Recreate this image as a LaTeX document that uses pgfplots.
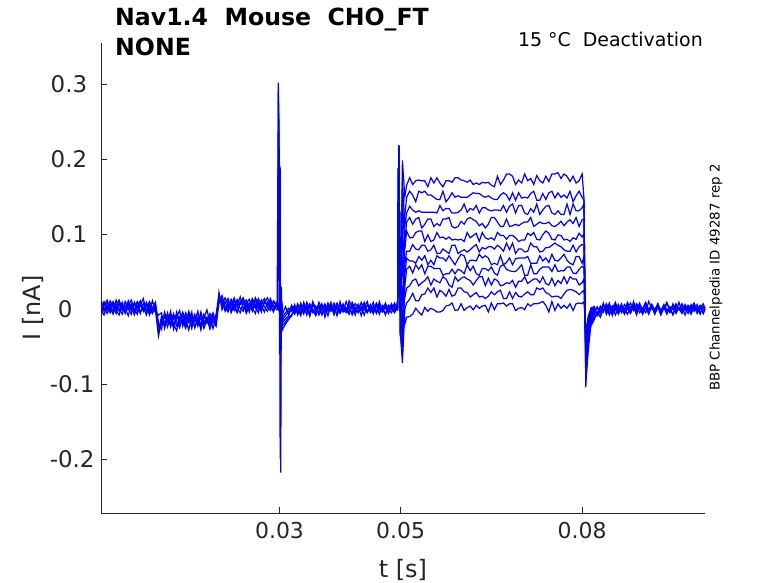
\documentclass[border=0pt]{standalone}
\usepackage{fontspec}
\setmainfont{DejaVu Sans}
\usepackage{pgfplots}
\usepackage{pgfplotstable}
\pgfplotsset{compat=1.18}
\definecolor{mblue}{RGB}{0,0,255}
\definecolor{mgray}{RGB}{38,38,38}

% baseline part of the sweeps, 0 - 0.05 s (nA)
\pgfplotstableread{
t b1 b2 b3 b4 b5 b6
0.0005 0.006 -0.004 0.011 -0.001 0.003 -0.009
0.0010 -0.003 0.008 0.002 -0.008 0.010 0.004
0.0015 0.009 0.001 -0.006 0.005 -0.002 0.012
0.0020 0.002 0.011 0.004 -0.005 0.007 -0.003
0.0025 -0.007 0.003 0.009 0.010 -0.004 0.006
0.0030 0.005 -0.006 -0.002 0.003 0.012 -0.001
0.0035 0.012 0.007 -0.008 -0.003 0.001 0.008
0.0040 0.000 -0.002 0.006 0.009 -0.007 0.003
0.0045 -0.004 0.010 0.001 -0.006 0.005 -0.005
0.0050 0.008 0.002 -0.009 0.004 -0.001 0.011
0.0055 0.003 -0.007 0.007 0.012 0.006 -0.002
0.0060 -0.005 0.009 -0.001 0.000 -0.008 0.005
0.0065 0.010 -0.003 0.004 -0.007 0.003 0.009
0.0070 0.004 0.006 -0.006 0.007 0.011 -0.004
0.0075 -0.002 0.014 0.008 -0.001 -0.003 0.002
0.0080 0.007 -0.004 -0.003 0.005 0.009 -0.008
0.0085 -0.008 0.004 0.010 -0.004 0.000 0.006
0.0090 0.001 -0.005 0.002 0.011 -0.006 -0.001
0.0095 0.009 0.000 -0.004 -0.002 0.007 0.003
0.0100 -0.033 -0.024 -0.008 -0.036 -0.018 -0.028
0.0105 -0.010 -0.021 -0.005 -0.016 -0.027 -0.012
0.0110 -0.019 -0.007 -0.026 -0.010 -0.004 -0.022
0.0115 -0.005 -0.017 -0.012 -0.024 -0.015 -0.008
0.0120 -0.024 -0.003 -0.018 -0.009 -0.021 -0.013
0.0125 -0.012 -0.027 -0.006 -0.020 -0.010 -0.025
0.0130 -0.007 -0.011 -0.022 -0.029 -0.016 -0.004
0.0135 -0.021 -0.002 -0.015 -0.011 -0.025 -0.017
0.0140 -0.016 -0.023 -0.004 -0.019 -0.008 -0.014
0.0145 -0.026 -0.009 -0.014 -0.005 -0.020 -0.023
0.0150 -0.006 -0.018 -0.028 -0.013 -0.003 -0.011
0.0155 -0.017 -0.004 -0.010 -0.022 -0.014 -0.026
0.0160 -0.010 -0.025 -0.017 -0.007 -0.024 -0.009
0.0165 -0.023 -0.014 -0.003 -0.018 -0.011 -0.019
0.0170 -0.004 -0.020 -0.024 -0.012 -0.028 -0.006
0.0175 -0.018 -0.007 -0.012 -0.026 -0.009 -0.021
0.0180 -0.011 -0.016 -0.001 -0.015 -0.019 -0.012
0.0185 -0.022 -0.010 -0.019 -0.006 -0.013 -0.027
0.0190 -0.014 -0.026 -0.008 -0.016 -0.005 -0.015
0.0195 -0.008 -0.012 -0.021 -0.023 -0.017 -0.010
0.0200 0.020 0.013 0.022 0.008 0.016 0.011
0.0205 0.003 0.011 -0.001 0.014 0.006 0.018
0.0210 0.010 -0.003 0.008 0.002 0.015 0.004
0.0215 0.001 0.009 0.014 -0.004 0.007 -0.002
0.0220 0.013 0.004 -0.005 0.008 -0.001 0.012
0.0225 0.006 0.015 0.005 -0.002 0.011 0.003
0.0230 -0.004 0.002 0.010 0.013 0.004 -0.005
0.0235 0.009 -0.005 0.001 0.006 0.016 0.008
0.0240 0.015 0.008 -0.003 0.010 0.000 0.013
0.0245 0.002 0.012 0.007 -0.006 0.009 -0.003
0.0250 0.008 -0.001 0.013 0.004 -0.004 0.007
0.0255 -0.003 0.007 0.002 0.014 0.012 0.001
0.0260 0.011 0.001 -0.006 0.006 0.003 0.015
0.0265 0.005 0.014 0.009 0.000 -0.005 0.006
0.0270 -0.001 0.005 0.001 0.012 0.008 -0.004
0.0275 0.010 -0.004 0.008 0.003 0.014 0.010
0.0280 0.004 0.009 0.015 -0.003 0.002 0.005
0.0285 0.014 0.000 0.004 0.008 -0.002 0.012
0.0290 0.001 0.010 -0.004 0.005 0.011 0.000
0.0295 0.007 0.003 0.009 -0.001 0.006 0.004
0.0300 0.003 -0.002 0.005 0.000 -0.004 0.002
0.0305 -0.014 -0.022 -0.006 -0.027 -0.010 -0.018
0.0310 -0.009 -0.017 0.003 -0.020 -0.005 -0.013
0.0315 -0.003 -0.011 -0.008 -0.014 0.001 -0.009
0.0320 0.004 -0.008 0.002 -0.009 -0.003 0.005
0.0325 -0.005 0.002 -0.007 -0.001 0.006 -0.004
0.0330 0.007 -0.005 0.001 0.005 -0.008 0.002
0.0335 -0.001 0.008 -0.009 0.002 0.004 -0.006
0.0340 0.004 -0.003 0.006 -0.007 -0.002 0.009
0.0345 -0.008 0.003 0.000 0.009 0.005 -0.003
0.0350 0.005 -0.010 -0.004 0.001 -0.006 0.007
0.0355 -0.001 0.006 0.008 -0.005 0.010 -0.002
0.0360 -0.006 -0.002 0.002 0.004 -0.003 -0.009
0.0365 0.009 0.004 -0.005 -0.008 0.002 0.005
0.0370 0.002 -0.008 0.007 0.000 -0.007 0.001
0.0375 -0.004 0.005 -0.011 0.007 0.003 -0.005
0.0380 0.007 -0.001 0.004 -0.003 -0.009 0.008
0.0385 -0.003 0.009 -0.002 0.005 0.006 -0.001
0.0390 0.004 -0.006 0.008 -0.008 -0.002 0.003
0.0395 -0.009 0.002 -0.001 0.006 0.008 -0.007
0.0400 0.005 -0.004 -0.006 0.001 -0.004 0.010
0.0405 -0.001 0.007 0.003 -0.004 0.005 -0.003
0.0410 -0.005 0.000 -0.003 0.010 -0.001 0.002
0.0415 0.011 -0.003 0.005 -0.001 -0.007 -0.006
0.0420 0.002 0.006 -0.008 -0.005 0.009 0.004
0.0425 -0.004 -0.002 0.002 0.007 0.001 -0.008
0.0430 0.006 0.004 -0.004 0.002 -0.005 0.006
0.0435 -0.002 -0.009 0.009 -0.002 0.003 -0.001
0.0440 0.007 0.003 0.000 0.005 -0.008 0.009
0.0445 -0.003 0.010 -0.005 -0.004 0.006 -0.004
0.0450 0.004 -0.005 0.006 0.001 -0.002 0.002
0.0455 -0.006 0.001 -0.002 0.009 0.004 -0.006
0.0460 0.008 -0.003 0.004 -0.006 -0.005 0.007
0.0465 0.001 0.006 -0.007 0.003 0.010 -0.002
0.0470 -0.004 -0.001 0.005 -0.002 -0.003 0.004
0.0475 0.005 -0.006 0.002 0.008 0.002 -0.008
0.0480 -0.002 0.004 -0.004 -0.001 -0.006 0.005
0.0485 0.006 -0.001 0.007 -0.005 0.004 0.001
0.0490 0.000 0.008 -0.003 0.004 -0.001 -0.005
0.0495 0.002 0.000 0.003 -0.001 0.001 0.002
}\basetab

% after the step, 0.0815 - 0.1 s (nA)
\pgfplotstableread{
t b1 b2 b3 b4 b5 b6
0.0815 -0.009 -0.017 -0.004 -0.022 -0.012 -0.006
0.0820 -0.003 -0.010 0.003 -0.014 -0.007 -0.001
0.0825 0.003 -0.006 -0.009 -0.004 0.002 -0.008
0.0830 -0.006 0.002 -0.003 -0.011 -0.005 0.004
0.0835 0.005 -0.004 0.006 -0.001 0.008 -0.003
0.0840 -0.002 0.007 -0.007 0.004 -0.004 0.006
0.0845 0.008 -0.001 0.001 -0.008 0.003 -0.006
0.0850 -0.005 0.004 -0.003 0.002 -0.009 0.001
0.0855 0.001 -0.008 0.007 -0.002 0.005 0.009
0.0860 -0.007 0.002 -0.001 0.006 -0.002 -0.004
0.0865 0.004 -0.003 0.005 -0.005 0.007 0.002
0.0870 -0.001 0.006 -0.006 0.001 -0.006 -0.007
0.0875 0.009 0.000 0.002 -0.007 0.001 0.005
0.0880 -0.003 -0.006 0.008 0.003 -0.004 -0.002
0.0885 0.002 0.005 -0.002 -0.001 0.010 0.003
0.0890 -0.006 -0.001 0.004 0.007 -0.003 -0.008
0.0895 0.005 0.008 -0.005 0.000 0.002 0.006
0.0900 0.000 -0.003 0.001 -0.006 -0.007 -0.001
0.0905 -0.005 0.002 0.009 0.002 0.004 0.008
0.0910 0.010 -0.007 -0.001 -0.003 -0.001 -0.004
0.0915 0.001 0.003 0.005 0.006 0.006 0.002
0.0920 -0.002 -0.001 -0.007 -0.001 -0.005 -0.006
0.0925 0.006 0.007 0.002 0.004 0.003 0.007
0.0930 -0.004 -0.004 -0.002 -0.007 -0.008 -0.002
0.0935 0.002 0.001 0.006 0.005 0.001 0.004
0.0940 -0.007 0.009 -0.003 0.000 0.007 -0.005
0.0945 0.003 -0.002 0.001 -0.005 -0.002 0.001
0.0950 -0.001 0.004 -0.008 0.007 0.005 -0.007
0.0955 0.007 -0.006 0.003 -0.002 -0.004 0.006
0.0960 0.000 0.002 -0.001 0.001 0.009 -0.001
0.0965 -0.005 -0.003 0.007 -0.006 -0.003 0.003
0.0970 0.004 0.006 -0.002 0.003 0.002 -0.008
0.0975 -0.002 0.000 0.002 -0.001 -0.006 0.005
0.0980 0.001 -0.007 -0.005 0.006 0.004 -0.002
0.0985 0.008 0.003 0.004 -0.003 -0.001 0.007
0.0990 -0.003 -0.001 -0.006 0.002 0.006 -0.004
0.0995 0.002 0.005 0.001 -0.007 -0.005 0.002
0.1000 -0.006 -0.002 0.007 0.004 0.001 -0.006
0.1005 0.003 0.001 -0.003 -0.001 0.003 0.004
}\tailtab

% test pulse, 0.05 - 0.082 s, one column per sweep (nA)
\pgfplotstableread{
t p1 p2 p3 p4 p5 p6 p7 p8 p9 p10 p11
0.0495 0.002 0.000 0.004 -0.002 0.001 0.003 -0.001 0.002 0.000 0.003 -0.002
0.0497 0.218 0.218 0.217 0.218 0.216 0.218 0.217 0.218 0.216 0.217 0.218
0.0500 -0.035 -0.030 -0.037 -0.033 -0.036 -0.031 -0.034 -0.037 -0.032 -0.035 -0.036
0.0503 0.198 -0.030 0.175 -0.040 0.150 -0.050 0.110 -0.060 0.070 -0.072 0.030
0.0507 0.150 0.125 0.110 0.090 0.080 0.060 0.045 0.030 0.015 0.000 -0.020
0.0510 0.165 0.149 0.128 0.116 0.104 0.077 0.068 0.053 0.028 0.008 -0.011
0.0515 0.175 0.157 0.137 0.122 0.095 0.077 0.064 0.057 0.031 0.013 -0.010
0.0520 0.166 0.152 0.132 0.113 0.095 0.086 0.064 0.048 0.038 0.021 -0.007
0.0525 0.171 0.143 0.129 0.120 0.102 0.080 0.061 0.059 0.040 0.011 0.001
0.0530 0.172 0.157 0.131 0.122 0.104 0.079 0.070 0.053 0.031 0.011 -0.004
0.0535 0.171 0.155 0.129 0.108 0.104 0.085 0.065 0.059 0.035 0.019 -0.008
0.0540 0.171 0.157 0.129 0.113 0.090 0.085 0.071 0.047 0.038 0.020 0.002
0.0545 0.163 0.152 0.129 0.120 0.099 0.077 0.059 0.057 0.043 0.028 -0.003
0.0550 0.175 0.152 0.129 0.120 0.090 0.079 0.065 0.057 0.032 0.022 0.001
0.0555 0.168 0.149 0.129 0.110 0.092 0.085 0.059 0.054 0.040 0.028 -0.001
0.0560 0.175 0.146 0.128 0.114 0.102 0.074 0.071 0.054 0.037 0.016 -0.004
0.0565 0.168 0.146 0.138 0.111 0.095 0.074 0.068 0.054 0.035 0.025 -0.004
0.0570 0.163 0.157 0.131 0.120 0.096 0.080 0.068 0.045 0.043 0.022 -0.002
0.0575 0.171 0.143 0.134 0.120 0.093 0.077 0.064 0.047 0.040 0.017 0.004
0.0580 0.171 0.148 0.134 0.122 0.096 0.074 0.071 0.047 0.032 0.026 0.005
0.0585 0.169 0.155 0.128 0.110 0.092 0.085 0.065 0.053 0.029 0.017 0.008
0.0590 0.175 0.149 0.128 0.108 0.093 0.085 0.059 0.047 0.043 0.019 -0.002
0.0595 0.175 0.151 0.129 0.110 0.092 0.074 0.067 0.053 0.037 0.028 -0.001
0.0600 0.172 0.149 0.132 0.117 0.093 0.077 0.073 0.051 0.041 0.028 0.007
0.0605 0.171 0.149 0.140 0.113 0.090 0.079 0.071 0.047 0.043 0.023 -0.002
0.0610 0.169 0.149 0.129 0.120 0.102 0.076 0.059 0.059 0.040 0.022 0.002
0.0615 0.172 0.152 0.134 0.122 0.095 0.079 0.065 0.051 0.038 0.016 0.004
0.0620 0.166 0.155 0.132 0.119 0.098 0.083 0.065 0.057 0.032 0.019 -0.001
0.0625 0.168 0.154 0.138 0.117 0.101 0.086 0.064 0.047 0.038 0.022 0.005
0.0630 0.166 0.154 0.128 0.111 0.090 0.076 0.073 0.045 0.043 0.016 0.001
0.0635 0.169 0.151 0.135 0.114 0.102 0.082 0.068 0.054 0.043 0.017 0.004
0.0640 0.168 0.149 0.135 0.108 0.095 0.080 0.071 0.054 0.031 0.014 0.005
0.0645 0.169 0.151 0.132 0.113 0.093 0.083 0.068 0.051 0.041 0.017 -0.004
0.0650 0.165 0.148 0.131 0.122 0.095 0.083 0.059 0.056 0.032 0.023 0.008
0.0655 0.163 0.146 0.132 0.122 0.092 0.080 0.061 0.048 0.040 0.019 -0.001
0.0660 0.177 0.146 0.132 0.116 0.102 0.085 0.059 0.045 0.038 0.023 0.007
0.0665 0.166 0.152 0.131 0.110 0.098 0.082 0.071 0.057 0.031 0.025 0.007
0.0670 0.172 0.155 0.138 0.110 0.098 0.077 0.059 0.059 0.032 0.014 0.008
0.0675 0.180 0.152 0.129 0.120 0.093 0.088 0.062 0.053 0.035 0.014 0.004
0.0680 0.180 0.145 0.137 0.110 0.098 0.079 0.068 0.051 0.034 0.023 0.007
0.0685 0.177 0.155 0.140 0.111 0.098 0.088 0.059 0.050 0.038 0.014 0.007
0.0690 0.166 0.145 0.128 0.113 0.095 0.074 0.067 0.050 0.029 0.022 -0.002
0.0695 0.172 0.155 0.138 0.111 0.090 0.080 0.068 0.054 0.037 0.017 0.001
0.0700 0.168 0.148 0.138 0.114 0.092 0.080 0.068 0.059 0.037 0.016 0.002
0.0705 0.180 0.149 0.128 0.116 0.092 0.076 0.068 0.045 0.043 0.020 -0.001
0.0710 0.171 0.148 0.126 0.116 0.101 0.077 0.070 0.045 0.034 0.023 0.007
0.0715 0.174 0.154 0.134 0.122 0.098 0.088 0.061 0.059 0.037 0.019 0.004
0.0720 0.166 0.157 0.129 0.110 0.102 0.083 0.061 0.047 0.040 0.019 0.007
0.0725 0.178 0.145 0.140 0.113 0.093 0.083 0.061 0.047 0.040 0.028 0.007
0.0730 0.171 0.145 0.126 0.116 0.092 0.076 0.071 0.053 0.035 0.026 0.008
0.0735 0.168 0.154 0.132 0.114 0.099 0.077 0.064 0.056 0.043 0.028 0.010
0.0740 0.177 0.146 0.137 0.114 0.104 0.082 0.068 0.056 0.034 0.022 0.005
0.0745 0.170 0.155 0.138 0.116 0.101 0.082 0.062 0.056 0.032 0.020 -0.004
0.0750 0.180 0.157 0.128 0.111 0.093 0.085 0.073 0.050 0.041 0.016 0.010
0.0755 0.180 0.148 0.126 0.110 0.092 0.088 0.065 0.059 0.031 0.017 -0.002
0.0760 0.182 0.155 0.131 0.113 0.099 0.085 0.064 0.050 0.038 0.017 0.007
0.0765 0.174 0.149 0.126 0.117 0.098 0.083 0.068 0.051 0.034 0.014 0.001
0.0770 0.180 0.152 0.126 0.111 0.092 0.079 0.073 0.051 0.043 0.020 0.005
0.0775 0.177 0.148 0.140 0.116 0.093 0.077 0.065 0.056 0.034 0.025 0.001
0.0780 0.170 0.157 0.126 0.119 0.090 0.077 0.061 0.056 0.043 0.026 0.007
0.0785 0.177 0.143 0.140 0.114 0.095 0.085 0.059 0.048 0.040 0.025 -0.002
0.0790 0.168 0.151 0.131 0.122 0.093 0.076 0.070 0.047 0.040 0.023 0.007
0.0795 0.171 0.157 0.131 0.110 0.101 0.083 0.070 0.053 0.032 0.019 0.008
0.0800 0.180 0.149 0.135 0.119 0.096 0.086 0.061 0.057 0.035 0.023 0.007
0.0803 0.148 0.145 0.140 0.120 0.100 0.085 0.070 0.055 0.040 0.025 0.010
0.0806 -0.104 -0.095 -0.085 -0.075 -0.065 -0.058 -0.050 -0.045 -0.040 -0.035 -0.030
0.0810 -0.045 -0.057 -0.040 -0.035 -0.030 -0.025 -0.022 -0.018 -0.015 -0.012 -0.010
0.0815 -0.020 -0.015 -0.012 -0.010 -0.008 -0.006 -0.004 -0.002 0.000 0.001 0.002
0.0820 -0.010 -0.006 -0.004 -0.002 0.003 -0.001 0.002 0.004 0.001 -0.003 0.002
}\pulsetab

\begin{document}
\begin{tikzpicture}
\path[use as bounding box] (0bp,0bp) rectangle (778bp,583bp);
\begin{axis}[
  at={(101bp,70bp)}, anchor=south west,
  width=604bp, height=470bp, scale only axis,
  xmin=0.0005, xmax=0.1003, ymin=-0.272, ymax=0.3547,
  axis lines*=left,
  axis line style={mgray, line width=0.6bp},
  tick align=inside, major tick length=6bp,
  tick style={mgray, line width=0.6bp},
  xtick={0.03,0.05,0.08}, xticklabels={0.03,0.05,0.08},
  ytick={-0.2,-0.1,0,0.1,0.2,0.3},
  yticklabels={-0.2,-0.1,{0\hspace*{22bp}},{0.1\hspace*{7.3bp}},{0.2\hspace*{7.3bp}},{0.3\hspace*{7.3bp}}},
  ticklabel style={text=mgray},
  xticklabel style={font=\fontsize{22}{26}\selectfont, yshift=-6bp},
  yticklabel style={font=\fontsize{23}{27}\selectfont, xshift=-3bp},
  clip=true,
  cycle list={{mblue, mark=none, line width=1.2bp}},
]
\pgfplotsinvokeforeach{b1,b2,b3,b4,b5,b6}{
  \addplot+[mblue, mark=none, line width=1.2bp] table[x=t,y=#1]{\basetab};
  \addplot+[mblue, mark=none, line width=1.2bp] table[x=t,y=#1]{\tailtab};
}
\pgfplotsinvokeforeach{p1,p2,p3,p4,p5,p6,p7,p8,p9,p10,p11}{
  \addplot+[mblue, mark=none, line width=1.2bp] table[x=t,y=#1]{\pulsetab};
}
% capacitive transient at 0.03 s
\addplot+[mblue, mark=none, line width=1.2bp] coordinates {(0.0295,0.004) (0.0297,0.003) (0.0298,0.302) (0.0299,0.250) (0.0300,-0.060) (0.0301,0.190) (0.0302,-0.218) (0.0303,0.030) (0.0304,-0.030) (0.0305,-0.012)};
\addplot+[mblue, mark=none, line width=1.2bp] coordinates {(0.0296,0.002) (0.0298,0.290) (0.0300,0.180) (0.0301,-0.200) (0.0302,-0.050) (0.0304,0.010) (0.0306,-0.015)};
\end{axis}
% texts
\node[anchor=base west, inner sep=0pt, font=\fontsize{23.7}{28}\selectfont\bfseries, text=black] at (115bp,557bp) {Nav1.4\ \ Mouse\ \ CHO\_FT};
\node[anchor=base west, inner sep=0pt, font=\fontsize{23.7}{28}\selectfont\bfseries, text=black] at (115bp,527bp) {NONE};
\node[anchor=base east, inner sep=0pt, font=\fontsize{19}{22}\selectfont, text=black] at (703bp,536bp) {15 °C\ \ Deactivation};
\node[rotate=90, font=\fontsize{13.4}{16}\selectfont, text=black] at (716bp,305.5bp) {BBP Channelpedia ID 49287 rep 2};
\node[anchor=base, font=\fontsize{24}{28}\selectfont, text=mgray] at (403bp,6bp) {t [s]};
\node[rotate=90, anchor=base, font=\fontsize{24}{28}\selectfont, text=mgray] at (40bp,275bp) {I [nA]};
\end{tikzpicture}
\end{document}
